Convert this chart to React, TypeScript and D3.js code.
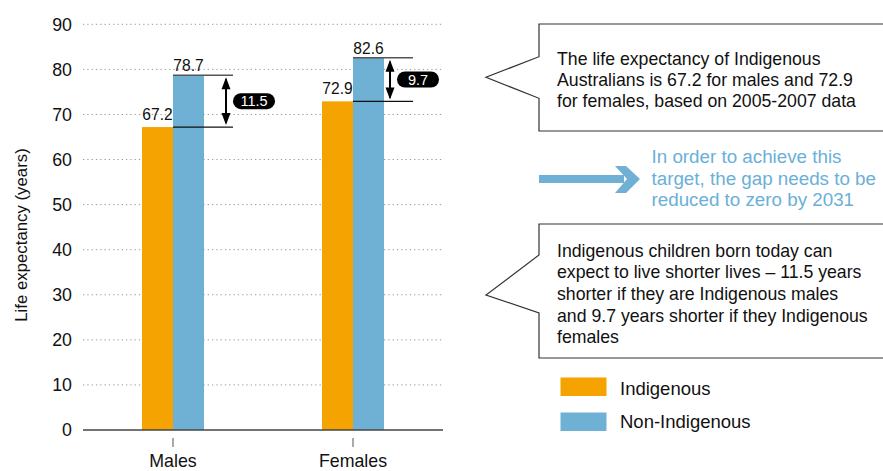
import React from "react";
import * as d3 from "d3";

const categories = ["Males", "Females"];
const indigenous = [67.2, 72.9];
const nonIndigenous = [78.7, 82.6];
const gaps = ["11.5", "9.7"];
const yTicks = [0, 10, 20, 30, 40, 50, 60, 70, 80, 90];
const seriesNames = ["Indigenous", "Non-Indigenous"];
const callout1 = [
  "The life expectancy of Indigenous",
  "Australians is 67.2 for males and 72.9",
  "for females, based on 2005-2007 data",
];
const callout2 = [
  "Indigenous children born today can",
  "expect to live shorter lives \u2013 11.5 years",
  "shorter if they are Indigenous males",
  "and 9.7 years shorter if they Indigenous",
  "females",
];
const targetText = [
  "In order to achieve this",
  "target, the gap needs to be",
  "reduced to zero by 2031",
];

const ORANGE = "#F4A300";
const BLUE = "#6FB1D5";
const FONT = "'Liberation Sans', Arial, Helvetica, sans-serif";

// layout per category for the gap annotation
const gapLayout = [
  { arrowX: 53, pillX: 60, lineLen: 60 },
  { arrowX: 37, pillX: 44, lineLen: 60 },
];

export default function App() {
  const x = d3.scaleBand<string>().domain(categories).range([83, 443]).padding(0);
  const y = d3.scaleLinear().domain([0, 90]).range([430, 24.3]);
  const barW = 31;

  return (
    <svg
      width={883}
      height={471}
      style={{ position: "absolute", left: 0, top: 0, fontFamily: FONT }}
    >
      <rect width={883} height={471} fill="#fff" />
      {yTicks.filter((t) => t > 0).map((t) => (
        <line
          key={t}
          x1={83}
          x2={443}
          y1={y(t)}
          y2={y(t)}
          stroke="#9a9a9a"
          strokeWidth={1}
          strokeDasharray="1.3,3"
        />
      ))}
      {yTicks.map((t) => (
        <text key={t} x={72} y={y(t)} dy="0.36em" textAnchor="end" fontSize={17.8} fill="#111">
          {t}
        </text>
      ))}
      <text transform="translate(27,235) rotate(-90)" textAnchor="middle" fontSize={16.8} fill="#111">
        Life expectancy (years)
      </text>
      {categories.map((c, i) => {
        const cx = (x(c) as number) + x.bandwidth() / 2;
        return (
          <g key={c}>
            <rect x={cx - barW} y={y(indigenous[i])} width={barW} height={y(0) - y(indigenous[i])} fill={ORANGE} />
            <rect x={cx} y={y(nonIndigenous[i])} width={barW} height={y(0) - y(nonIndigenous[i])} fill={BLUE} />
            <text x={cx - barW / 2} y={y(indigenous[i]) - 7} textAnchor="middle" fontSize={15.6} fill="#111">
              {indigenous[i].toFixed(1)}
            </text>
            <text x={cx + barW / 2} y={y(nonIndigenous[i]) - 4} textAnchor="middle" fontSize={15.6} fill="#111">
              {nonIndigenous[i].toFixed(1)}
            </text>
            <line x1={cx} x2={cx} y1={438} y2={447} stroke="#555" strokeWidth={1} />
            <text x={cx} y={467} textAnchor="middle" fontSize={17.8} fill="#111">
              {c}
            </text>
          </g>
        );
      })}
      <line x1={83} x2={443} y1={y(0)} y2={y(0)} stroke="#444" strokeWidth={1.5} />
      {categories.map((c, i) => {
        const cx = (x(c) as number) + x.bandwidth() / 2;
        const L = gapLayout[i];
        const yTop = y(nonIndigenous[i]);
        const yBot = y(indigenous[i]);
        const ax = cx + L.arrowX;
        const mid = (yTop + yBot) / 2;
        const head = 12;
        return (
          <g key={"gap" + c}>
            <line x1={cx} x2={cx + L.lineLen} y1={yTop} y2={yTop} stroke="#555" strokeWidth={1.5} />
            <line x1={cx} x2={cx + L.lineLen} y1={yBot} y2={yBot} stroke="#111" strokeWidth={1.3} />
            <line x1={ax} x2={ax} y1={yTop + 4} y2={yBot - 4} stroke="#000" strokeWidth={2} />
            <path d={`M${ax},${yTop + 2} L${ax - 4.5},${yTop + 2 + head} L${ax + 4.5},${yTop + 2 + head} Z`} fill="#000" />
            <path d={`M${ax},${yBot - 2} L${ax - 4.5},${yBot - 2 - head} L${ax + 4.5},${yBot - 2 - head} Z`} fill="#000" />
            <rect x={cx + L.pillX} y={mid - 8} width={42} height={16} rx={8} fill="#000" />
            <text x={cx + L.pillX + 21} y={mid} dy="0.36em" textAnchor="middle" fontSize={14.5} fill="#fff">
              {gaps[i]}
            </text>
          </g>
        );
      })}
      <path d="M539,24 H892 V131 H539 V98.3 L486,77.3 L539,56.7 Z" fill="#fff" stroke="#333" strokeWidth={1.2} />
      {callout1.map((t, i) => (
        <text key={i} x={557} y={65 + i * 21.2} fontSize={17.7} fill="#111">
          {t}
        </text>
      ))}
      <rect x={539} y={175} width={85} height={8} fill={BLUE} />
      <path d="M615,166 L626,166 L640,179 L626,193 L615,193 L627,179 Z" fill={BLUE} />
      {targetText.map((t, i) => (
        <text key={i} x={651.5} y={163 + i * 21.5} fontSize={18.8} fill="#6AB0D8">
          {t}
        </text>
      ))}
      <path d="M539,224 H892 V358 H539 V313 L486,295 L539,255 Z" fill="#fff" stroke="#333" strokeWidth={1.2} />
      {callout2.map((t, i) => (
        <text key={i} x={557} y={256.7 + i * 21.65} fontSize={17.7} fill="#111">
          {t}
        </text>
      ))}
      {seriesNames.map((s, i) => (
        <g key={s}>
          <rect x={560.5} y={377.5 + i * 35} width={46} height={18.5} fill={i === 0 ? ORANGE : BLUE} />
          <text x={620} y={394.5 + i * 33.5} fontSize={18.5} fill="#111">
            {s}
          </text>
        </g>
      ))}
    </svg>
  );
}
